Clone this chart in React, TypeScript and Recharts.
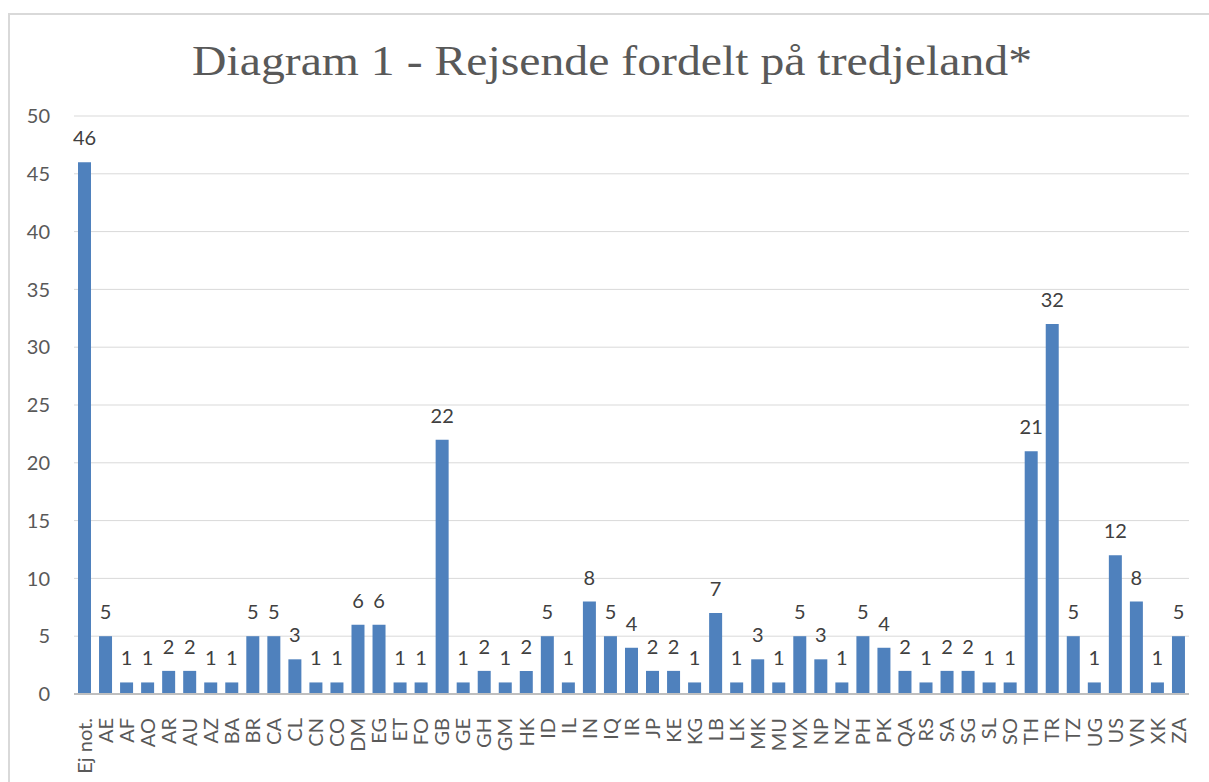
import React from "react";
import { BarChart, Bar, XAxis, YAxis, CartesianGrid, LabelList } from "recharts";

const categories = ["Ej not.", "AE", "AF", "AO", "AR", "AU", "AZ", "BA", "BR", "CA", "CL", "CN", "CO", "DM", "EG", "ET", "FO", "GB", "GE", "GH", "GM", "HK", "ID", "IL", "IN", "IQ", "IR", "JP", "KE", "KG", "LB", "LK", "MK", "MU", "MX", "NP", "NZ", "PH", "PK", "QA", "RS", "SA", "SG", "SL", "SO", "TH", "TR", "TZ", "UG", "US", "VN", "XK", "ZA"];
const values = [46, 5, 1, 1, 2, 2, 1, 1, 5, 5, 3, 1, 1, 6, 6, 1, 1, 22, 1, 2, 1, 2, 5, 1, 8, 5, 4, 2, 2, 1, 7, 1, 3, 1, 5, 3, 1, 5, 4, 2, 1, 2, 2, 1, 1, 21, 32, 5, 1, 12, 8, 1, 5];
const yTicks = [0, 5, 10, 15, 20, 25, 30, 35, 40, 45, 50];
const title = "Diagram 1 - Rejsende fordelt på tredjeland*";

const data = categories.map((c, i) => ({ name: c, value: values[i] }));

const FONT = "Lato, 'Noto Sans', sans-serif";

const XTick = (props: any) => {
  const { x, y, payload } = props;
  return (
    <text
      x={0}
      y={0}
      transform={`translate(${x},${y + 16}) rotate(-90)`}
      textAnchor="end"
      dy="0.36em"
      fill="#595959"
      fontSize={20}
      fontFamily={FONT}
    >
      {payload.value}
    </text>
  );
};

export default function App() {
  return (
    <>
      <style>{"html,body{overflow:hidden;}"}</style>
      <div
        style={{
          position: "fixed",
          left: 8,
          top: 13,
          width: 1210,
          height: 780,
          borderTop: "2px solid #d9d9d9",
          borderLeft: "2px solid #d9d9d9",
          boxSizing: "border-box",
          background: "#fff",
          overflow: "hidden",
        }}
      >
        <svg
          width={1191}
          height={100}
          style={{ position: "absolute", left: 0, top: 0 }}
        >
          <text
            x={182}
            y={60}
            textLength={840}
            lengthAdjust="spacingAndGlyphs"
            fill="#595959"
            fontSize={43}
            fontFamily="'Liberation Serif', 'DejaVu Serif', serif"
          >
            {title}
          </text>
        </svg>
        <div style={{ position: "absolute", left: -2, top: -2 }}>
          <BarChart
            width={1193}
            height={769}
            data={data}
            margin={{ top: 103, right: 12, left: 0, bottom: 0 }}
            barSize={13}
          >
            <CartesianGrid vertical={false} stroke="#d9d9d9" />
            <YAxis
              domain={[0, 50]}
              ticks={yTicks}
              width={66}
              axisLine={false}
              tickLine={false}
              tickSize={0}
              tickMargin={24}
              tick={{ fill: "#595959", fontSize: 20, fontFamily: FONT }}
            />
            <XAxis
              dataKey="name"
              interval={0}
              height={88}
              axisLine={{ stroke: "#bfbfbf", strokeWidth: 2 }}
              tickLine={false}
              tick={<XTick />}
            />
            <Bar dataKey="value" fill="#4f81bd" isAnimationActive={false}>
              <LabelList
                dataKey="value"
                position="top"
                offset={17}
                fill="#404040"
                fontSize={20}
                fontFamily={FONT}
              />
            </Bar>
          </BarChart>
        </div>
      </div>
    </>
  );
}
